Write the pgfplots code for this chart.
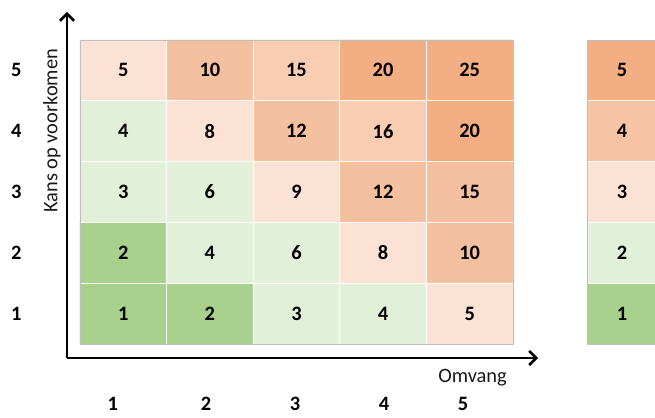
\documentclass[border=0pt]{standalone}
\usepackage{pgfplots}
\pgfplotsset{compat=1.18}
\usepackage{pgfplotstable}
\usepackage{fontspec}
\setmainfont{Carlito}
\usetikzlibrary{arrows.meta}

% risk levels: 0 green ... 5 orange
\pgfplotsset{colormap={risk}{rgb255=(169,209,142) rgb255=(226,240,217) rgb255=(251,226,213) rgb255=(248,205,178) rgb255=(245,192,159) rgb255=(243,174,131)}}

\pgfplotstableread{
x y c v
1 1 0 1
2 1 0 2
3 1 1 3
4 1 1 4
5 1 2 5
1 2 0 2
2 2 1 4
3 2 1 6
4 2 2 8
5 2 4 10
1 3 1 3
2 3 1 6
3 3 2 9
4 3 4 12
5 3 4 15
1 4 1 4
2 4 2 8
3 4 4 12
4 4 3 16
5 4 5 20
1 5 2 5
2 5 4 10
3 5 3 15
4 5 5 20
5 5 5 25
}\mainmat

\newcommand{\bigfont}{\fontsize{20.5}{24}\selectfont}

\begin{document}
\begin{tikzpicture}
\begin{axis}[
  scale only axis, width=471bp, height=346bp,
  at={(67bp,60bp)}, anchor=south west,
  xmin=0.35, xmax=5.789, ymin=0.27, ymax=5.96,
  axis lines=left,
  axis line style={line width=2.6bp, -{Straight Barb[length=7bp,width=14bp,line width=2.6bp]}},
  colormap name=risk, colormap access=direct,
  xtick={0.88,1.955,2.983,4.01,4.923}, xticklabels={1,2,3,4,5},
  ytick={1,2,3,4,5},
  major tick length=0pt,
  ticklabel style={font=\bfseries\bigfont, text=black},
  xticklabel style={yshift=-38bp, inner sep=1bp},
  yticklabel style={xshift=-42bp},
  xlabel={Omvang}, ylabel={Kans op voorkomen},
  label style={font=\bigfont, text=black!90},
  x label style={at={(axis description cs:0.861,-0.058)}, anchor=center},
  y label style={at={(axis description cs:-0.032,0.657)}, anchor=center},
  /pgf/number format/assume math mode=true,
  clip=false,
]
\addplot[matrix plot*, mesh/cols=5, point meta=explicit] table[x=x,y=y,meta=c] {\mainmat};
\addplot[white, line width=1.2bp, unbounded coords=jump] coordinates {
  (0.5,1.5) (5.5,1.5) (nan,nan) (0.5,2.5) (5.5,2.5) (nan,nan)
  (0.5,3.5) (5.5,3.5) (nan,nan) (0.5,4.5) (5.5,4.5) (nan,nan)
  (1.5,0.5) (1.5,5.5) (nan,nan) (2.5,0.5) (2.5,5.5) (nan,nan)
  (3.5,0.5) (3.5,5.5) (nan,nan) (4.5,0.5) (4.5,5.5)};
\addplot[black!25, line width=0.8bp] coordinates {(0.5,0.5) (5.5,0.5) (5.5,5.5) (0.5,5.5) (0.5,0.5)};
\addplot[only marks, mark size=0pt, nodes near coords, point meta=explicit symbolic,
  nodes near coords align=center,
  every node near coord/.append style={font=\bfseries\bigfont, text=black}]
  table[x=x,y=y,meta=v] {\mainmat};
\end{axis}

\begin{axis}[
  scale only axis, width=70bp, height=304bp,
  at={(587bp,74bp)}, anchor=south west,
  xmin=0, xmax=1, ymin=0, ymax=5,
  hide axis, clip=false,
]
\addplot[fill={rgb,255:red,169;green,209;blue,142}, draw=none] coordinates {(0,0) (1,0) (1,1) (0,1)} --cycle;
\addplot[fill={rgb,255:red,226;green,240;blue,217}, draw=none] coordinates {(0,1) (1,1) (1,2) (0,2)} --cycle;
\addplot[fill={rgb,255:red,251;green,226;blue,213}, draw=none] coordinates {(0,2) (1,2) (1,3) (0,3)} --cycle;
\addplot[fill={rgb,255:red,246;green,196;blue,165}, draw=none] coordinates {(0,3) (1,3) (1,4) (0,4)} --cycle;
\addplot[fill={rgb,255:red,243;green,174;blue,131}, draw=none] coordinates {(0,4) (1,4) (1,5) (0,5)} --cycle;
\addplot[white, line width=1.2bp, unbounded coords=jump] coordinates {
  (0,1) (1,1) (nan,nan) (0,2) (1,2) (nan,nan) (0,3) (1,3) (nan,nan) (0,4) (1,4)};
\addplot[black!25, line width=0.8bp] coordinates {(1,0) (0,0) (0,5) (1,5)};
\addplot[only marks, mark size=0pt, nodes near coords, point meta=explicit symbolic,
  nodes near coords align=center,
  every node near coord/.append style={font=\bfseries\bigfont, text=black}]
  coordinates {(0.5,0.5)[1] (0.5,1.5)[2] (0.5,2.5)[3] (0.5,3.5)[4] (0.5,4.5)[5]};
\end{axis}
\pgfresetboundingbox
\useasboundingbox (0,0) rectangle (655bp,418bp);
\end{tikzpicture}
\end{document}
